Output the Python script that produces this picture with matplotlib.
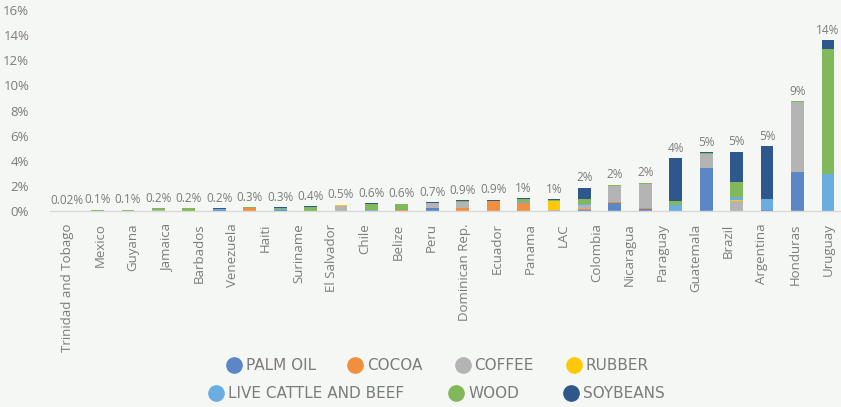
import numpy as np
import matplotlib
matplotlib.use("Agg")
import matplotlib.pyplot as plt
from matplotlib.lines import Line2D

# category labels on the axis (24) -- the chart itself has 26 stacked bars
countries = ["Trinidad and Tobago", "Mexico", "Guyana", "Jamaica", "Barbados",
             "Venezuela", "Haiti", "Suriname", "El Salvador", "Chile", "Belize",
             "Peru", "Dominican Rep.", "Ecuador", "Panama", "LAC", "Colombia",
             "Nicaragua", "Paraguay", "Guatemala", "Brazil", "Argentina",
             "Honduras", "Uruguay"]

bar_labels = ["0.02%", "0.1%", "0.1%", "0.2%", "0.2%", "0.2%", "0.3%", "0.3%",
              "0.4%", "0.5%", "0.6%", "0.6%", "0.7%", "0.9%", "0.9%", "1%", "1%",
              "2%", "2%", "2%", "4%", "5%", "5%", "5%", "9%", "14%"]

# shares (%) per commodity, one value per bar
palm_oil = [0, 0, 0, 0, 0, 0.05, 0, 0.05, 0, 0, 0, 0, 0.25, 0, 0, 0, 0,
            0.05, 0.66, 0.16, 0.02, 3.40, 0, 0.05, 3.13, 0]
cocoa = [0, 0, 0, 0, 0, 0, 0.27, 0, 0, 0, 0, 0.05, 0, 0.20, 0.80, 0.66, 0,
         0.10, 0.05, 0.04, 0, 0, 0, 0, 0, 0]
coffee = [0, 0, 0.02, 0.05, 0, 0, 0, 0, 0, 0.43, 0, 0.03, 0.35, 0.50, 0, 0, 0.10,
          0.30, 1.27, 1.95, 0, 1.11, 0.80, 0, 5.52, 0]
rubber = [0, 0, 0, 0.05, 0, 0, 0, 0, 0, 0.02, 0, 0, 0, 0, 0, 0, 0.72,
          0, 0, 0, 0, 0.04, 0.05, 0.05, 0, 0]
cattle = [0, 0, 0, 0, 0, 0.08, 0, 0.10, 0, 0, 0.05, 0, 0, 0, 0.02, 0.03, 0,
          0.10, 0, 0, 0.48, 0, 0.29, 0.83, 0, 2.95]
wood = [0, 0.10, 0.08, 0.10, 0.20, 0, 0.03, 0.10, 0.33, 0.05, 0.52, 0.50, 0.04, 0.10, 0, 0.27, 0.05,
        0.40, 0.05, 0.10, 0.26, 0.04, 1.19, 0, 0.07, 9.95]
soybeans = [0.03, 0, 0, 0, 0, 0.07, 0, 0.05, 0.05, 0, 0.03, 0, 0.06, 0.05, 0.08, 0.04, 0.08,
            0.90, 0.05, 0, 3.43, 0.08, 2.37, 4.24, 0, 0.70]

series = [("PALM OIL", palm_oil, "#5B87C6"),
          ("COCOA", cocoa, "#F28F3F"),
          ("COFFEE", coffee, "#B4B4B4"),
          ("RUBBER", rubber, "#FFC90A"),
          ("LIVE CATTLE AND BEEF", cattle, "#6AADE0"),
          ("WOOD", wood, "#80B85A"),
          ("SOYBEANS", soybeans, "#2E588B")]

bg = "#F5F7F4"
txt = "#7B7B7B"
plt.rcParams["font.family"] = ["Open Sans", "DejaVu Sans"]

fig = plt.figure(figsize=(8.41, 4.07), dpi=100, facecolor=bg)
ax = fig.add_axes([0.0595, 0.4816, 0.9405, 0.4938], facecolor=bg)

x = np.arange(len(bar_labels))
bottom = np.zeros(len(x))
for name, vals, col in series:
    vals = np.array(vals, dtype=float)
    ax.bar(x, vals, bottom=bottom, width=0.42, color=col, linewidth=0, label=name)
    bottom += vals

for xi, top, lab in zip(x, bottom, bar_labels):
    ax.annotate(lab, (xi, top), xytext=(0, 2.5), textcoords="offset points",
                ha="center", va="bottom", fontsize=8.5, color=txt)

ax.set_ylim(0, 16)
ax.set_xlim(-0.56, 25.43)
ax.set_yticks(range(0, 17, 2))
ax.set_yticklabels([f"{v}%" for v in range(0, 17, 2)])
ax.set_xticks(np.linspace(0, len(bar_labels) - 1, len(countries)))
ax.set_xticklabels(countries, rotation=90)
ax.tick_params(axis="y", length=0, pad=15, labelsize=9.5, labelcolor=txt)
ax.tick_params(axis="x", length=0, pad=9, labelsize=9.5, labelcolor=txt)
for s in ["top", "right", "left"]:
    ax.spines[s].set_visible(False)
ax.spines["bottom"].set_color("#D9D9D9")
ax.spines["bottom"].set_linewidth(1.0)

def handle(col, name):
    return Line2D([], [], marker="o", linestyle="", markersize=11,
                  markerfacecolor=col, markeredgecolor=col, label=name)

leg_font = {"family": "DejaVu Sans", "size": 11}
row1 = [handle(c, n) for n, _, c in series[:4]]
row2 = [handle(c, n) for n, _, c in series[4:]]
leg1 = fig.legend(handles=row1, loc="center", bbox_to_anchor=(0.52, 0.101),
                  ncol=4, frameon=False, prop=leg_font, labelcolor=txt,
                  handletextpad=0.28, columnspacing=2.1, handlelength=1.0)
leg2 = fig.legend(handles=row2, loc="center", bbox_to_anchor=(0.519, 0.033),
                  ncol=3, frameon=False, prop=leg_font, labelcolor=txt,
                  handletextpad=0.28, columnspacing=2.9, handlelength=1.0)

fig.savefig("out.png", dpi=100, facecolor=bg)
